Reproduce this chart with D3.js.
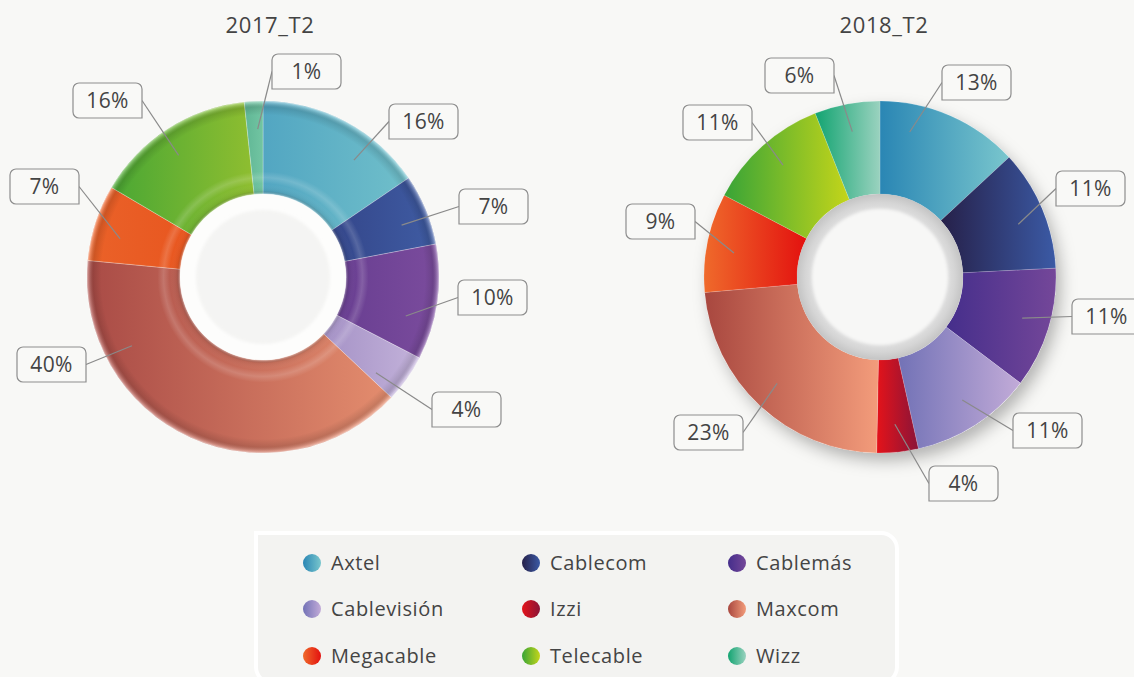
<!DOCTYPE html>
<html><head><meta charset="utf-8">
<script src="https://cdnjs.cloudflare.com/ajax/libs/d3/7.8.5/d3.min.js"></script>
<style>html,body{margin:0;padding:0;background:#f8f8f6;}svg{display:block;}</style>
</head><body>
<svg id="c" width="1134" height="677"></svg>
<script>
// ---------- DATA ----------
const companies = ["Axtel","Cablecom","Cablemás","Cablevisión","Izzi","Maxcom","Megacable","Telecable","Wizz"];
const periods = ["2017_T2","2018_T2"];
const share2017 = [15.5, 6.5, 10.6, 4.4, 0, 39.5, 7.0, 14.8, 1.7];
const share2018 = [13.1, 11.1, 11.1, 11.2, 3.8, 23.3, 9.1, 11.3, 6.0];
const labels2017 = ["16%","7%","10%","4%",null,"40%","7%","16%","1%"];
const labels2018 = ["13%","11%","11%","11%","4%","23%","9%","11%","6%"];

// ---------- STYLE ----------
const colors2017 = [
  ["#52a6c2","#70bfca"],["#34468a","#3f5ca3"],["#683e91","#7b4c9d"],["#a592c6","#c3b2da"],
  ["#c8142a","#8a1436"],["#a94b46","#e48d6e"],["#ea6229","#e8561f"],["#4aa734","#8fbe30"],["#5fb695","#72c5a2"]
];
const colors2018 = [
  ["#2a86b4","#79c6cd"],["#262049","#3b5aa5"],["#452e8b","#744799"],["#7272b6","#c2abd8"],
  ["#e4131a","#8a1438"],["#a8473f","#f39c7b"],["#ef6a2b","#e3110f"],["#38a437","#c4d51a"],["#12a471","#9ad2bf"]
];
// label layout: angle nudge (deg) for leader start, box offset from chart centre, attach side
const layout2017 = [
  {n:10,bx:126,by:-173,s:"left"},{n:2,bx:196,by:-88,s:"left"},{n:7,bx:195,by:3,s:"left"},{n:5,bx:169,by:115,s:"left"},
  null,{n:38,bx:-246,by:70,s:"right"},{n:-3,bx:-253,by:-108,s:"right"},{n:-2,bx:-190,by:-194,s:"right"},{n:1,bx:9,by:-223,s:"left"}
];
const layout2018 = [
  {n:-12,bx:62,by:-212,s:"left"},{n:2,bx:176,by:-106,s:"left"},{n:-1,bx:192,by:22,s:"left"},{n:-1,bx:133,by:136,s:"left"},
  {n:0,bx:49,by:189,s:"left"},{n:1,bx:-206,by:138,s:"right"},{n:-2,bx:-254,by:-73,s:"right"},{n:1,bx:-197,by:-172,s:"right"},{n:0,bx:-115,by:-219,s:"right"}
];
const charts = [
  {title:periods[0], values:share2017, labels:labels2017, colors:colors2017, layout:layout2017, cx:263, cy:277, tx:270, style:"bevel"},
  {title:periods[1], values:share2018, labels:labels2018, colors:colors2018, layout:layout2018, cx:880, cy:277, tx:884, style:"flat"}
];
const R = 176, RIN = 83, RHOLE = 67, RLEAD = 148, BW = 69, BH = 35;
const FONT = "'Open Sans', 'DejaVu Sans', sans-serif";
const TXT = "#444444";
const FW = 500;

const svg = d3.select("#c");
const defs = svg.append("defs");

// filters
const sh = defs.append("filter").attr("id","shadow").attr("x","-30%").attr("y","-30%").attr("width","160%").attr("height","160%");
sh.append("feDropShadow").attr("dx",5).attr("dy",8).attr("stdDeviation",8).attr("flood-color","#000").attr("flood-opacity",0.28);
const bl = defs.append("filter").attr("id","soft").attr("x","-20%").attr("y","-20%").attr("width","140%").attr("height","140%");
bl.append("feGaussianBlur").attr("stdDeviation",1.6);
const bl2 = defs.append("filter").attr("id","soft2").attr("x","-20%").attr("y","-20%").attr("width","140%").attr("height","140%");
bl2.append("feGaussianBlur").attr("stdDeviation",0.6);

function linGrad(id, c){
  const g = defs.append("linearGradient").attr("id",id).attr("x1",0).attr("x2",1).attr("y1",0).attr("y2",0);
  g.append("stop").attr("offset",0).attr("stop-color",c[0]);
  g.append("stop").attr("offset",1).attr("stop-color",c[1]);
}

function boxPath(x,y,w,h,side,r){
  const rbr = side==="right"?0:r, rbl = side==="left"?0:r;
  let p = `M${x+r},${y}H${x+w-r}A${r},${r} 0 0 1 ${x+w},${y+r}V${y+h-rbr}`;
  if(rbr) p += `A${rbr},${rbr} 0 0 1 ${x+w-rbr},${y+h}`;
  p += `H${x+rbl}`;
  if(rbl) p += `A${rbl},${rbl} 0 0 1 ${x},${y+h-rbl}`;
  p += `V${y+r}A${r},${r} 0 0 1 ${x+r},${y}Z`;
  return p;
}

const pie = d3.pie().sort(null).value(d=>d.v).startAngle(0).endAngle(2*Math.PI);
const arc = d3.arc().innerRadius(RIN).outerRadius(R);

charts.forEach((ch, ci)=>{
  const data = companies.map((name,i)=>({name, i, v:ch.values[i], label:ch.labels[i], lay:ch.layout[i]}));
  const arcs = pie(data);
  data.forEach((d,i)=>linGrad(`g${ci}_${i}`, ch.colors[i]));

  // title
  svg.append("text").attr("x",ch.tx).attr("y",33).attr("text-anchor","middle")
    .attr("font-family",FONT).attr("font-size",22).attr("font-weight",FW).attr("letter-spacing",0.6).attr("fill",TXT).text(ch.title);

  const g = svg.append("g").attr("transform",`translate(${ch.cx},${ch.cy})`);

  if(ch.style==="flat"){
    g.append("path").attr("d", d3.arc().innerRadius(RIN).outerRadius(R)({startAngle:0,endAngle:2*Math.PI}))
      .attr("fill","#fff").attr("filter","url(#shadow)");
  }

  g.selectAll("path.slice").data(arcs.filter(a=>a.data.v>0)).join("path")
    .attr("class","slice").attr("d",arc)
    .attr("fill",a=>`url(#g${ci}_${a.data.i})`)
    .attr("stroke", ch.style==="bevel" ? "rgba(255,255,255,0.45)" : "rgba(255,255,255,0.25)")
    .attr("stroke-width",0.6);

  if(ch.style==="bevel"){
    const rg = defs.append("radialGradient").attr("id",`bev${ci}`).attr("gradientUnits","userSpaceOnUse")
      .attr("cx",0).attr("cy",0).attr("r",R);
    [[RIN/R,"#fff",0.45],[0.49,"#000",0.06],[0.53,"#fff",0.0],[0.565,"#fff",0.16],[0.60,"#fff",0.0],
     [0.92,"#000",0.0],[0.965,"#000",0.12],[0.99,"#fff",0.25],[1,"#fff",0.5]]
      .forEach(s=>rg.append("stop").attr("offset",s[0]).attr("stop-color",s[1]).attr("stop-opacity",s[2]));
    g.append("path").attr("d", arc({startAngle:0,endAngle:2*Math.PI})).attr("fill",`url(#bev${ci})`);
    // hole
    g.append("circle").attr("r",RIN).attr("fill","#fdfdfc").attr("filter","url(#soft2)");
    g.append("circle").attr("r",RHOLE).attr("fill","#f4f4f3").attr("filter","url(#soft)");
  } else {
    const rg = defs.append("radialGradient").attr("id",`ring${ci}`).attr("gradientUnits","userSpaceOnUse")
      .attr("cx",0).attr("cy",0).attr("r",RIN);
    [[RHOLE/RIN,"#e0e0e0"],[0.9,"#d5d5d5"],[1,"#c4c4c4"]]
      .forEach(s=>rg.append("stop").attr("offset",s[0]).attr("stop-color",s[1]));
    g.append("circle").attr("r",RIN).attr("fill",`url(#ring${ci})`);
    g.append("circle").attr("r",RHOLE+1).attr("fill","#f7f7f6").attr("filter","url(#soft)");
  }

  // labels
  const lab = svg.append("g").attr("transform",`translate(${ch.cx},${ch.cy})`);
  arcs.filter(a=>a.data.label && a.data.lay).forEach(a=>{
    const L = a.data.lay;
    const ang = (a.startAngle + a.endAngle)/2 + L.n*Math.PI/180;
    const sx = RLEAD*Math.sin(ang), sy = -RLEAD*Math.cos(ang);
    const ex = L.s==="left" ? L.bx : L.bx+BW, ey = L.by + BH/2;
    lab.append("line").attr("x1",sx).attr("y1",sy).attr("x2",ex).attr("y2",ey)
      .attr("stroke","#8a8a8a").attr("stroke-width",1.2);
    lab.append("path").attr("d",boxPath(L.bx,L.by,BW,BH,L.s,6))
      .attr("fill","#f9f9f7").attr("stroke","#8e8e8e").attr("stroke-width",1.2);
    lab.append("text").attr("x",L.bx+BW/2).attr("y",L.by+BH/2+7.5).attr("text-anchor","middle")
      .attr("font-family",FONT).attr("font-size",21).attr("font-weight",FW).attr("letter-spacing",0.3).attr("fill",TXT).text(a.data.label);
  });
});

// ---------- LEGEND ----------
const legendX = [312, 531, 737], legendY = [563, 609, 656];
svg.append("path")
  .attr("d",`M256,533H881A16,16 0 0 1 897,549V667A16,16 0 0 1 881,683H272A16,16 0 0 1 256,667Z`)
  .attr("fill","#f3f3f1").attr("stroke","#ffffff").attr("stroke-width",4);
companies.forEach((name,i)=>{
  const gx = legendX[i%3], gy = legendY[Math.floor(i/3)];
  const id = `lg${i}`;
  linGrad(id, colors2018[i]);
  svg.append("circle").attr("cx",gx).attr("cy",gy).attr("r",9).attr("fill",`url(#${id})`);
  svg.append("text").attr("x",gx+19).attr("y",gy+7).attr("font-family",FONT).attr("font-size",20).attr("font-weight",FW)
    .attr("letter-spacing",0.6).attr("fill",TXT).text(name);
});
</script>
</body></html>
